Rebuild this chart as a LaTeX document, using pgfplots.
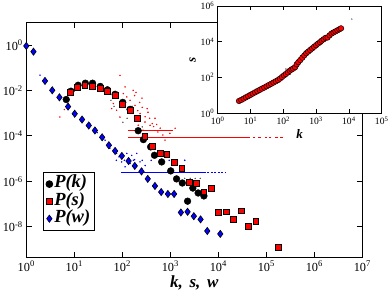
\documentclass[border=0pt]{standalone}
\usepackage{fontspec}
\setmainfont{Liberation Serif}
\usepackage{pgfplots}
\pgfplotsset{compat=1.18}
\definecolor{gred}{RGB}{255,0,0}
\definecolor{gblue}{RGB}{0,0,255}
\begin{document}
\begin{tikzpicture}
\useasboundingbox (-26.3pt,-38.3pt) rectangle (363.7pt,257.7pt);
\begin{axis}[
  at={(0pt,0pt)}, anchor=south west,
  scale only axis, width=336pt, height=235.4pt,
  xmode=log, ymode=log, log basis x=10, log basis y=10,
  xmin=1, xmax=1e7, ymin=4.4e-10, ymax=10,
  xtick={1,10,100,1000,1e4,1e5,1e6,1e7},
  ytick={1,1e-2,1e-4,1e-6,1e-8},
  minor xtick={}, minor ytick={},
  tick align=inside, major tick length=5.5pt,
  axis line style={line width=0.9pt},
  every tick/.style={line width=0.9pt, black},
  xticklabel={10\textsuperscript{\pgfmathparse{int(round(\tick))}\pgfmathresult}},
  yticklabel={10\textsuperscript{\pgfmathparse{int(round(\tick))}\pgfmathresult}},
  tick label style={font=\fontsize{12.3}{14}\selectfont},
  xlabel={\bfseries\itshape k,\hspace{0.4em}s,\hspace{0.4em}w},
  xlabel style={font=\fontsize{17}{18}\selectfont, yshift=3pt},
  clip=false,
  legend cell align=left,
  legend image code/.code={\draw[mark repeat=2,mark phase=2,#1] plot coordinates {(0pt,0pt) (5pt,0pt) (10pt,0pt)};},
  legend style={at={(0.049,0.363)}, anchor=north west, draw=black, line width=0.8pt,
    font=\fontsize{18.5}{18.5}\selectfont\bfseries\itshape, inner sep=2.8pt,
    nodes={inner sep=1.5pt, text height=11pt, text depth=3.3pt}, row sep=0pt},
]
% raw scatter (s)
\addplot[only marks, mark=*, mark size=0.5pt, draw=gred, fill=gred, forget plot] coordinates {
(89.5,0.0466) (114,0.0143) (169,0.0102) (105,0.0073) (124,0.0052) (65,0.00265) (76.4,0.00135)
(145,0.0037) (184,0.00223) (234,9.7e-4) (297,4.1e-4) (378,2.95e-4) (89.5,6.8e-4) (60,1.6e-3)
(215,2.95e-4) (5.0,6.8e-4) (6.2,1.45e-3) (270,1.78e-4) (480,6e-4) (615,2.2e-4) (343,1.1e-3)
(193,8.3e-3) (257,4.6e-3) (81,4.6e-3) (132,1e-3) (776,6.5e-5) (980,1.3e-4) (1260,2.2e-4)
(160,2.0e-3) (210,1.3e-3) (300,7e-4) (420,3.5e-4) (550,1.5e-4) (700,1.1e-4)
(180,6e-3) (230,3e-3) (260,1.8e-3) (330,1.6e-3) (370,6e-4) (450,2.6e-4) (520,3.2e-4)
};
% raw 1/N values of s
\addplot[draw=gred, line width=1pt, solid, forget plot] coordinates {(132,8.55e-5) (46000,8.55e-5)};
\addplot[draw=gred, line width=1pt, solid, forget plot] coordinates {(132,1.74e-4) (1150,1.74e-4)};
\addplot[only marks, mark=-, mark size=1.3pt, draw=gred, line width=1pt, forget plot] coordinates {
(55000,8.55e-5) (72000,8.55e-5) (98000,8.55e-5) (120000,8.55e-5) (165000,8.55e-5) (205000,8.55e-5)
};
% raw scatter (k)
\addplot[only marks, mark=*, mark size=0.45pt, draw=black!70, fill=black!70, forget plot] coordinates {
(50,7.5e-3) (58,3.7e-3) (67.5,2.0e-3) (103,4e-4) (126,6e-4) (200,4.5e-4) (260,2.5e-4)
(2000,1.35e-6) (2600,1.35e-6) (3300,1.35e-6) (4200,1.35e-6)
};
% raw scatter (w)
\addplot[only marks, mark=*, mark size=0.5pt, draw=gblue, fill=gblue, forget plot] coordinates {
(65,2.35e-5) (76,1.7e-5) (124,1.7e-5) (157,1.4e-5) (200,1.7e-5) (97,7.2e-6) (145,6.1e-6)
(234,7.2e-6) (114,4.4e-6) (254,3.7e-6) (1.93,0.047) (43.7,6.5e-5) (55,2.9e-5) (30,1.4e-4)
(21,3.6e-4) (85,1.2e-5) (180,9e-6) (300,5e-6)
(75,8.5e-6) (110,8.5e-6) (170,8.5e-6) (260,8.5e-6) (400,8.5e-6) (620,8.5e-6) (950,8.5e-6) (1400,8.5e-6) (2000,8.5e-6)
};
\addplot[draw=gblue, line width=0.8pt, solid, forget plot] coordinates {(93,2.5e-6) (5000,2.5e-6)};
\addplot[draw=gblue, line width=0.8pt, dash pattern=on 2pt off 1.5pt, forget plot] coordinates {(5000,2.5e-6) (14500,2.5e-6)};
% P(k)
\addplot[only marks, mark=*, mark size=3.4pt, draw=black, fill=black] coordinates {
(6.8,4.0e-3) (8.5,9.3e-3) (12.0,0.0170) (17.0,0.0209) (24.0,0.0209) (34.7,0.0151) (49.0,0.0107)
(70.8,6.8e-3) (102,3.0e-3) (145,1.48e-3) (214,1.70e-4) (275,6.9e-5) (389,3.3e-5) (468,1.41e-5)
(661,7.2e-6) (1020,2.9e-6) (1350,1.29e-6) (1780,8.5e-7) (2290,1.35e-7) (2950,5.1e-7) (3800,3.1e-7)
(5010,2.3e-7)
};
\addlegendentry{P(k)}
% P(s)
\addplot[only marks, mark=square*, mark size=2.9pt, draw=black, fill=gred, line width=0.7pt] coordinates {
(8.4,8.1e-3) (11.7,0.0138) (16.6,0.0166) (24.0,0.0158) (34.7,0.0120) (49.0,8.9e-3) (70.8,5.9e-3)
(102,2.5e-3) (145,1.32e-3) (204,5.75e-4) (295,9.8e-5) (427,3.6e-5) (617,1.78e-5) (851,1.58e-5)
(1200,6.8e-6) (1740,3.7e-6) (2510,8.9e-7) (3550,8.1e-7) (5010,3.5e-7) (7240,5.1e-7) (10200,4.3e-8)
(14500,4.6e-8) (20900,2.14e-8) (30200,5.1e-8) (42700,1.02e-8) (60300,1.82e-8) (178000,1.26e-9)
};
\addlegendentry{P(s)}
% P(w)
\addplot[only marks, mark=diamond*, mark size=3.6pt, draw=black, fill=gblue, line width=0.6pt] coordinates {
(1,0.91) (1.41,0.51) (2.45,0.0263) (3.47,0.0102) (4.90,0.0050) (7.41,0.00195) (10.2,9.5e-4)
(14.5,5.25e-4) (20.0,2.88e-4) (26.9,1.74e-4) (38.0,8.7e-5) (52.5,3.9e-5) (70.8,2.19e-5)
(97.7,1.32e-5) (135,7.9e-6) (182,4.8e-6) (251,2.75e-6) (339,1.29e-6) (479,6.3e-7) (646,3.4e-7)
(891,2.8e-7) (1200,2.8e-7) (1660,4.3e-8) (2290,4.6e-8) (3090,2.95e-8) (4270,2.14e-8) (5890,6.6e-9)
(11000,4.9e-9)
};
\addlegendentry{P(w)}
\end{axis}
\begin{axis}[
  at={(191.4pt,144.4pt)}, anchor=south west,
  scale only axis, width=164pt, height=107.3pt,
  xmode=log, ymode=log, log basis x=10, log basis y=10,
  xmin=1, xmax=1e5, ymin=1, ymax=1e6,
  xtick={1,10,100,1000,1e4,1e5},
  ytick={1,100,1e4,1e6},
  minor xtick={}, minor ytick={},
  tick align=inside, major tick length=4.5pt,
  axis line style={line width=0.8pt},
  every tick/.style={line width=0.8pt, black},
  axis background/.style={fill=white},
  xticklabel={10\textsuperscript{\pgfmathparse{int(round(\tick))}\pgfmathresult}},
  yticklabel={10\textsuperscript{\pgfmathparse{int(round(\tick))}\pgfmathresult}},
  tick label style={font=\fontsize{9.6}{11}\selectfont},
  xlabel={\bfseries\itshape k}, ylabel={\bfseries\itshape s},
  label style={font=\fontsize{13}{14}\selectfont},
  xlabel style={yshift=2pt}, ylabel style={yshift=-2pt},
  clip=false,
]
\addplot[only marks, mark=*, mark size=0.4pt, draw=black!70, fill=black!70] coordinates {
(110,180) (130,260) (150,200) (170,330) (190,250) (210,420) (240,300) (260,520) (300,600) (12300,186000)
(120,300) (160,150) (200,460) (280,420)
};
\addplot[only marks, mark=*, mark size=2.8pt, draw=black, fill=gred, line width=0.5pt] coordinates {
(4.47,4.9) (5.25,5.6) (6.17,6.6) (7.24,7.8) (8.51,9.1) (10.0,10.7) (11.7,12.6) (13.8,14.8)
(16.2,17.4) (19.1,20.4) (22.4,24.0) (26.3,27.5) (30.9,32.4) (36.3,38.0) (42.7,44.7) (50.1,52.5)
(58.9,61.7) (69.2,72.4) (79.4,87.1) (91.2,107) (105,132) (120,158) (138,195) (158,240) (178,282)
(200,316) (229,380) (257,550) (288,724) (331,955) (380,1290) (437,1740) (501,2290) (575,2820)
(661,3470) (759,4270) (871,5250) (1000,6460) (1150,7940) (1320,9550) (1480,11500) (1700,13800)
(1950,16600) (2240,17400) (2570,22900) (2950,28800) (3390,33100) (3890,38000) (4470,43700)
(5130,50100) (5750,56200)
};
\end{axis}
\end{tikzpicture}
\end{document}
